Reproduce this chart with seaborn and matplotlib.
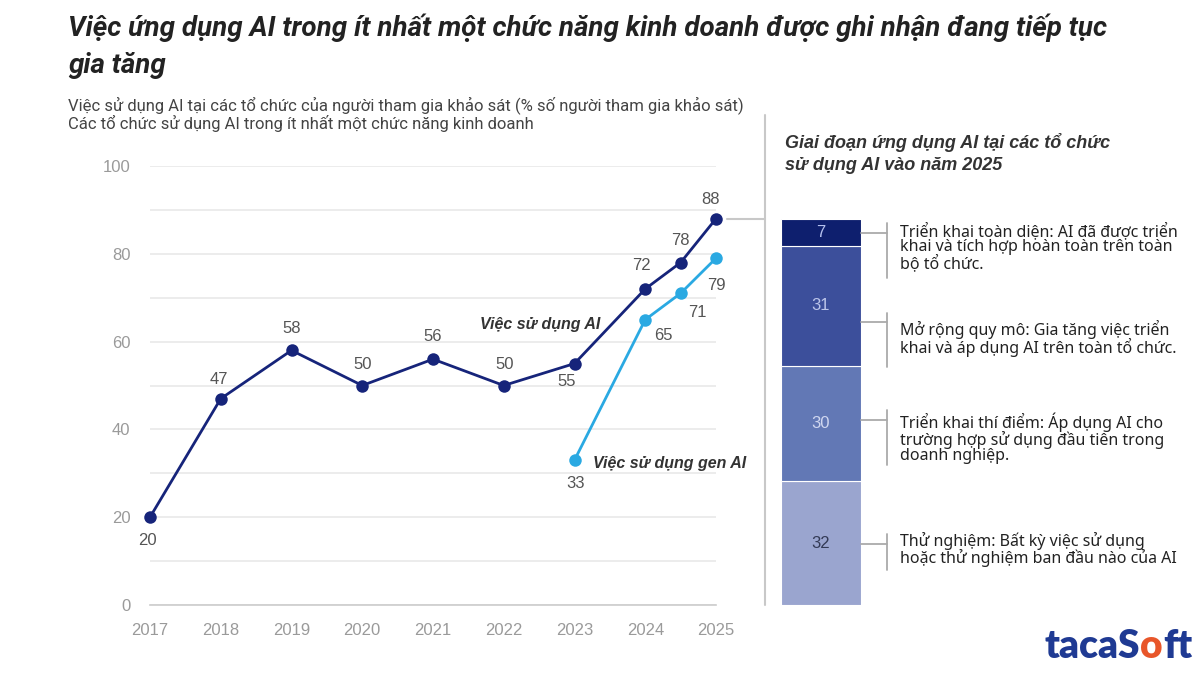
import matplotlib.pyplot as plt
import seaborn as sns
import pandas as pd
from matplotlib.lines import Line2D
from matplotlib.transforms import blended_transform_factory
from matplotlib.offsetbox import TextArea, HPacker, AnnotationBbox

# ---- data ----
years_ai = [2017, 2018, 2019, 2020, 2021, 2022, 2023, 2024, 2024.5, 2025]
ai_usage = [20, 47, 58, 50, 56, 50, 55, 72, 78, 88]
years_gen = [2023, 2024, 2024.5, 2025]
gen_ai_usage = [33, 65, 71, 79]
tick_years = [2017, 2018, 2019, 2020, 2021, 2022, 2023, 2024, 2025]

stage_values = [32, 30, 31, 7]  # bottom -> top
stage_texts = [
    "Thử nghiệm: Bất kỳ việc sử dụng\nhoặc thử nghiệm ban đầu nào của AI",
    "Triển khai thí điểm: Áp dụng AI cho\ntrường hợp sử dụng đầu tiên trong\ndoanh nghiệp.",
    "Mở rộng quy mô: Gia tăng việc triển\nkhai và áp dụng AI trên toàn tổ chức.",
    "Triển khai toàn diện: AI đã được triển\nkhai và tích hợp hoàn toàn trên toàn\nbộ tổ chức.",
]

# ---- style ----
AI_COLOR = "#16247a"
GEN_COLOR = "#2aa9e2"
stage_colors = ["#9aa5cf", "#6278b5", "#3c4f9b", "#0e1f6e"]
stage_num_colors = ["#333a55", "#d0d7f0", "#bcc6ea", "#b4c0ee"]
# label offsets in pixels
ai_offsets = [(-3, -23), (-2, 19), (0, 22), (0, 21), (0, 23), (1, 21), (-8, -18), (-4, 23), (0, 22), (-6, 19)]
gen_offsets = [(1, -23), (18, -16), (17, -19), (0, -27)]
# bracket (tick y, top y, bottom y) in bar units
brackets = [(15.8, 18.4, 9.1), (47.9, 50.5, 36.3), (73.3, 75.6, 61.7), (96.4, 99.0, 84.7)]
text_tops = [18.9, 50.0, 73.9, 99.2]

sns.set_theme(style="white")
plt.rcParams["font.family"] = ["Liberation Sans", "DejaVu Sans"]

fig = plt.figure(figsize=(12, 6.75), dpi=100)
fig.patch.set_facecolor("white")

# ---- line chart ----
ax = fig.add_axes([150 / 1200, 70 / 675, 566 / 1200, 439 / 675])
df_ai = pd.DataFrame({"year": years_ai, "value": ai_usage})
df_gen = pd.DataFrame({"year": years_gen, "value": gen_ai_usage})
sns.lineplot(data=df_ai, x="year", y="value", ax=ax, color=AI_COLOR, lw=2,
             marker="o", markersize=9, markeredgewidth=0, clip_on=False, zorder=3)
sns.lineplot(data=df_gen, x="year", y="value", ax=ax, color=GEN_COLOR, lw=2,
             marker="o", markersize=9, markeredgewidth=0, clip_on=False, zorder=3)

ax.set_xlim(2017, 2025)
ax.set_ylim(0, 100)
ax.set_xticks(tick_years)
ax.set_xticklabels([str(y) for y in tick_years])
ax.set_yticks(range(0, 101, 20))
ax.set_yticks(range(10, 100, 20), minor=True)
ax.set_xlabel("")
ax.set_ylabel("")
ax.grid(axis="y", which="both", color="#ebebeb", lw=1.3, zorder=0)
ax.grid(axis="x", visible=False)
ax.tick_params(axis="y", which="both", length=0, pad=14, labelcolor="#9a9a9a", labelsize=12)
ax.tick_params(axis="x", length=7, width=1.2, color="#cccccc", pad=6, labelcolor="#9a9a9a", labelsize=12)
sns.despine(ax=ax, left=True)
ax.spines["bottom"].set_color("#cccccc")
ax.spines["bottom"].set_linewidth(1.2)

for x, y, off in zip(years_ai, ai_usage, ai_offsets):
    ax.annotate(str(y), (x, y), xytext=off, textcoords="offset pixels",
                ha="center", va="center", fontsize=12, color="#555555")
for x, y, off in zip(years_gen, gen_ai_usage, gen_offsets):
    ax.annotate(str(y), (x, y), xytext=off, textcoords="offset pixels",
                ha="center", va="center", fontsize=12, color="#555555")

ax.text(2022.51, 63.8, "Việc sử dụng AI", ha="center", va="center",
        fontsize=11.5, fontweight="bold", fontstyle="italic", color="#333333")
ax.text(2024.34, 32.3, "Việc sử dụng gen AI", ha="center", va="center",
        fontsize=11.5, fontweight="bold", fontstyle="italic", color="#333333")

# ---- separator and connector ----
fig.add_artist(Line2D([765 / 1200] * 2, [1 - 115 / 675, 1 - 605 / 675],
                      transform=fig.transFigure, color="#c8c8c8", lw=1.5))
fig.add_artist(Line2D([727 / 1200, 765 / 1200], [1 - 219 / 675] * 2,
                      transform=fig.transFigure, color="#c8c8c8", lw=1.5))

# ---- stacked bar ----
bax = fig.add_axes([781 / 1200, 70 / 675, 80 / 1200, 386 / 675])
bottom = 0
for v, c, tc in zip(stage_values, stage_colors, stage_num_colors):
    bax.bar(0, v, bottom=bottom, width=1, color=c, edgecolor="white", lw=0.8)
    bax.text(0, bottom + v / 2, str(v), ha="center", va="center", fontsize=12, color=tc)
    bottom += v
bax.set_xlim(-0.5, 0.5)
bax.set_ylim(0, 100)
bax.axis("off")

btr = blended_transform_factory(bax.transAxes, bax.transData)
for (ty, top, bot), txt, tt in zip(brackets, stage_texts, text_tops):
    bax.add_line(Line2D([1.0, 1.325], [ty, ty], transform=btr, color="#aaaaaa", lw=1.3, clip_on=False))
    bax.add_line(Line2D([1.325, 1.325], [top, bot], transform=btr, color="#aaaaaa", lw=1.3, clip_on=False))
    bax.text(1.49, tt, txt, transform=btr, ha="left", va="top", fontsize=11.5,
             family=["Noto Sans", "DejaVu Sans"], color="#222222", linespacing=0.95)

# ---- titles ----
fig.text(68 / 1200, 1 - 14 / 675,
         "Việc ứng dụng AI trong ít nhất một chức năng kinh doanh được ghi nhận đang tiếp tục\ngia tăng",
         ha="left", va="top", fontsize=20, fontweight="bold", fontstyle="italic",
         family=["Roboto", "DejaVu Sans"], color="#222222", linespacing=1.45)
fig.text(68 / 1200, 1 - 96 / 675,
         "Việc sử dụng AI tại các tổ chức của người tham gia khảo sát (% số người tham gia khảo sát)\n"
         "Các tổ chức sử dụng AI trong ít nhất một chức năng kinh doanh",
         ha="left", va="top", fontsize=12, family=["Roboto", "DejaVu Sans"], color="#444444",
         linespacing=1.05)
fig.text(785 / 1200, 1 - 133 / 675,
         "Giai đoạn ứng dụng AI tại các tổ chức\nsử dụng AI vào năm 2025",
         ha="left", va="top", fontsize=13, fontweight="bold", fontstyle="italic",
         color="#333333", linespacing=1.4)

# ---- logo ----
logo_props = dict(fontsize=28, fontweight="heavy", family=["Lato", "DejaVu Sans"])
parts = [TextArea("tacaS", textprops=dict(color="#1f3a93", **logo_props)),
         TextArea("o", textprops=dict(color="#e8562a", **logo_props)),
         TextArea("ft", textprops=dict(color="#1f3a93", **logo_props))]
logo = HPacker(children=parts, pad=0, sep=0)
fig.add_artist(AnnotationBbox(logo, (1192 / 1200, 1 - 646 / 675), xycoords="figure fraction",
                              box_alignment=(1, 0.5), frameon=False))

fig.savefig("out.png", dpi=100)
